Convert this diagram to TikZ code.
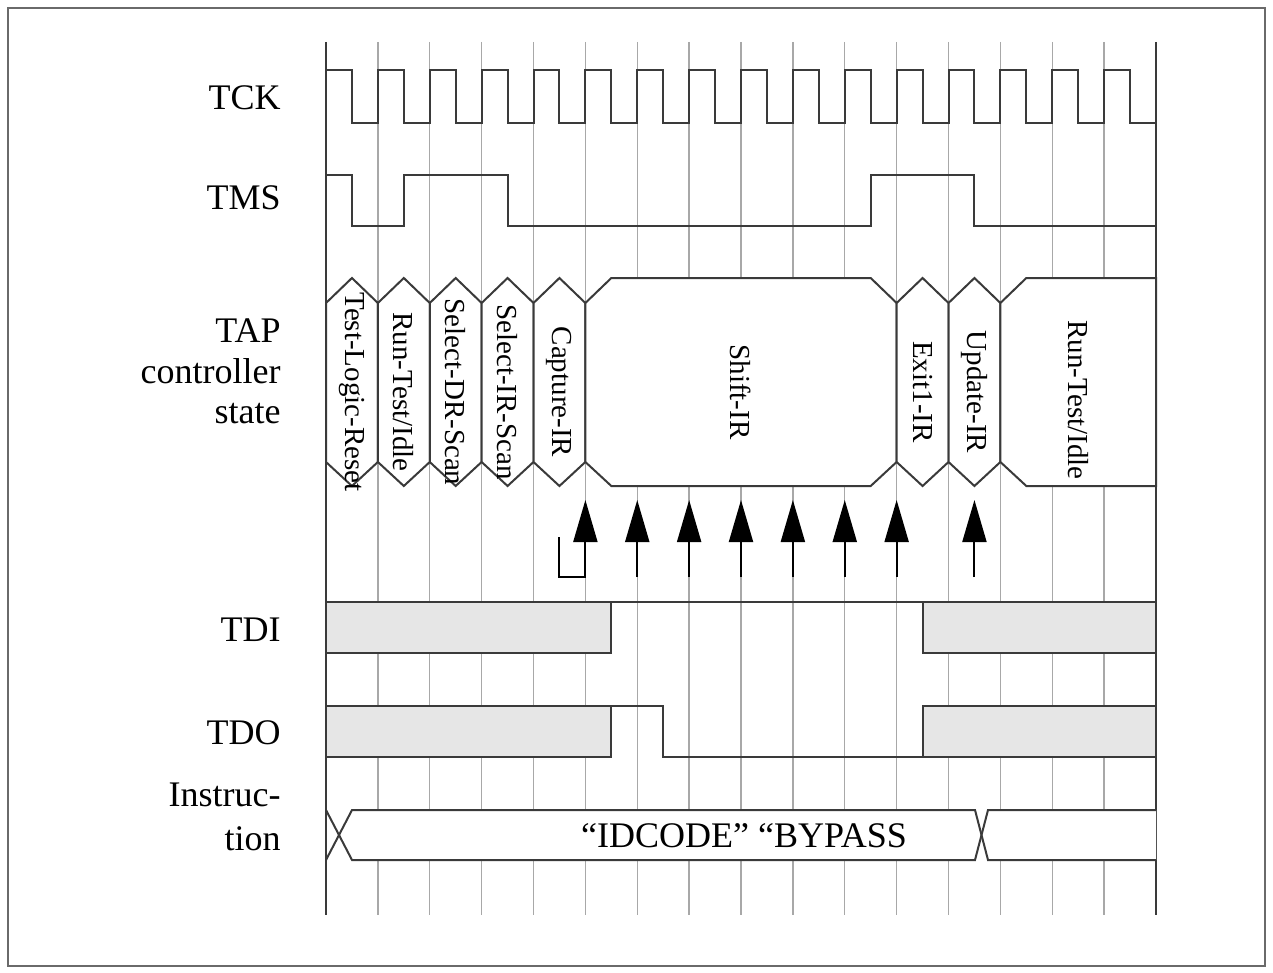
\documentclass[tikz,border=0pt]{standalone}
\usepackage{fontspec}
\setmainfont{Liberation Serif}
\usetikzlibrary{arrows.meta}

\definecolor{gridgray}{HTML}{A8A8A8}
\definecolor{wavecol}{HTML}{3A3A3A}
\definecolor{boxgray}{HTML}{E6E6E6}
\definecolor{framegray}{HTML}{6A6A6A}

\newcommand{\cyc}{51.875}

\tikzset{
  gridline/.style={gridgray, line width=0.7pt},
  edgeline/.style={wavecol, line width=1pt},
  wave/.style={wavecol, line width=1pt},
  siglabel/.style={anchor=base east, inner sep=0pt, font=\fontsize{18}{20}\selectfont},
  statelabel/.style={rotate=-90, inner sep=0pt, font=\fontsize{14.5}{16}\selectfont},
  statebox/.style={wave, fill=white, line join=miter},
  busybox/.style={wave, fill=boxgray},
  sampletick/.style={black, line width=1pt, -{Triangle[length=21pt,width=12pt]}}
}

\begin{document}
\begin{tikzpicture}[x=0.5pt,y=-0.5pt]
\useasboundingbox (0,0) rectangle (1273,973);

% Draw the outer frame
\draw[framegray, line width=1.4pt] (8,8) rectangle (1265,966);

% Draw the clock grid
\foreach \i in {1,...,15}
  \draw[gridline] ({326+\i*\cyc},42) -- ({326+\i*\cyc},915);
\draw[edgeline] (326,42) -- (326,915);
\draw[edgeline] (1156,42) -- (1156,915);

% Draw the signal names
\node[siglabel] (tck) at (281,110) {TCK};
\node[siglabel] (tms) at (281,210) {TMS};
\node[siglabel] (tap) at (281,342) {TAP};
\node[siglabel] (ctrl) at (281,383) {controller};
\node[siglabel] (state) at (281,423) {state};
\node[siglabel] (tdi) at (281,641) {TDI};
\node[siglabel] (tdo) at (281,744) {TDO};
\node[siglabel] (instr) at (281,806) {Instruc-};
\node[siglabel] (tion) at (281,850) {tion};

% Draw TCK
\draw[wave] (326,123) \foreach \i in {0,...,15} {
  |- ({326+(\i+0.5)*\cyc},70) |- ({326+(\i+1)*\cyc},123) };

% Draw TMS
\draw[wave] (326,175) -| ({326+0.5*\cyc},226) -| ({326+1.5*\cyc},175)
  -| ({326+3.5*\cyc},226) -| ({326+10.5*\cyc},175)
  -| ({326+12.5*\cyc},226) -- (1156,226);

% Draw the TAP controller states
\foreach \a/\b/\txt in {0/1/Test-Logic-Reset, 1/2/{Run-Test/Idle},
    2/3/Select-DR-Scan, 3/4/Select-IR-Scan, 4/5/Capture-IR,
    5/11/Shift-IR, 11/12/Exit1-IR, 12/13/Update-IR} {
  \draw[statebox] ({326+\a*\cyc},303) -- ({326+(\a+0.5)*\cyc},278)
    -- ({326+(\b-0.5)*\cyc},278) -- ({326+\b*\cyc},303)
    -- ({326+\b*\cyc},462) -- ({326+(\b-0.5)*\cyc},486)
    -- ({326+(\a+0.5)*\cyc},486) -- ({326+\a*\cyc},462) -- cycle;
  \node[statelabel] (st\a) at ({326+(\a+\b)/2*\cyc},392) {\txt};
}
\draw[statebox] ({326+13*\cyc},303) -- ({326+13.5*\cyc},278) -- (1156,278)
  -- (1156,486) -- ({326+13.5*\cyc},486) -- ({326+13*\cyc},462) -- cycle;
\node[statelabel] (st13) at ({326+14.5*\cyc},400) {Run-Test/Idle};

% Draw the sampling edges
\draw[sampletick] ({326+4.5*\cyc},537) |- ({326+5*\cyc},577) -- ({326+5*\cyc},500);
\foreach \i in {6,...,11}
  \draw[sampletick] ({326+\i*\cyc},577) -- ({326+\i*\cyc},500);
\draw[sampletick] ({326+12.5*\cyc},577) -- ({326+12.5*\cyc},500);

% Draw TDI
\draw[busybox] (326,602) rectangle ({326+5.5*\cyc},653);
\draw[wave] ({326+5.5*\cyc},602) -- ({326+11.5*\cyc},602);
\draw[busybox] ({326+11.5*\cyc},602) rectangle (1156,653);

% Draw TDO
\draw[busybox] (326,706) rectangle ({326+5.5*\cyc},757);
\draw[wave] ({326+5.5*\cyc},706) -| ({326+6.5*\cyc},757) -- ({326+11.5*\cyc},757);
\draw[busybox] ({326+11.5*\cyc},706) rectangle (1156,757);

% Draw the instruction bus
\fill[white] (339,835) -- (352,810) -- (975,810) -- (981.5,835) -- (975,860)
  -- (352,860) -- cycle;
\fill[white] (981.5,835) -- (988,810) -- (1156,810) -- (1156,860) -- (988,860) -- cycle;
\draw[wave] (326,810) -- (352,860) -- (975,860) -- (988,810) -- (1156,810);
\draw[wave] (326,860) -- (352,810) -- (975,810) -- (988,860) -- (1156,860);
\node[font=\fontsize{18}{20}\selectfont, anchor=base, inner sep=0pt] (instval)
  at (744,847) {“IDCODE” “BYPASS};

\end{tikzpicture}
\end{document}
